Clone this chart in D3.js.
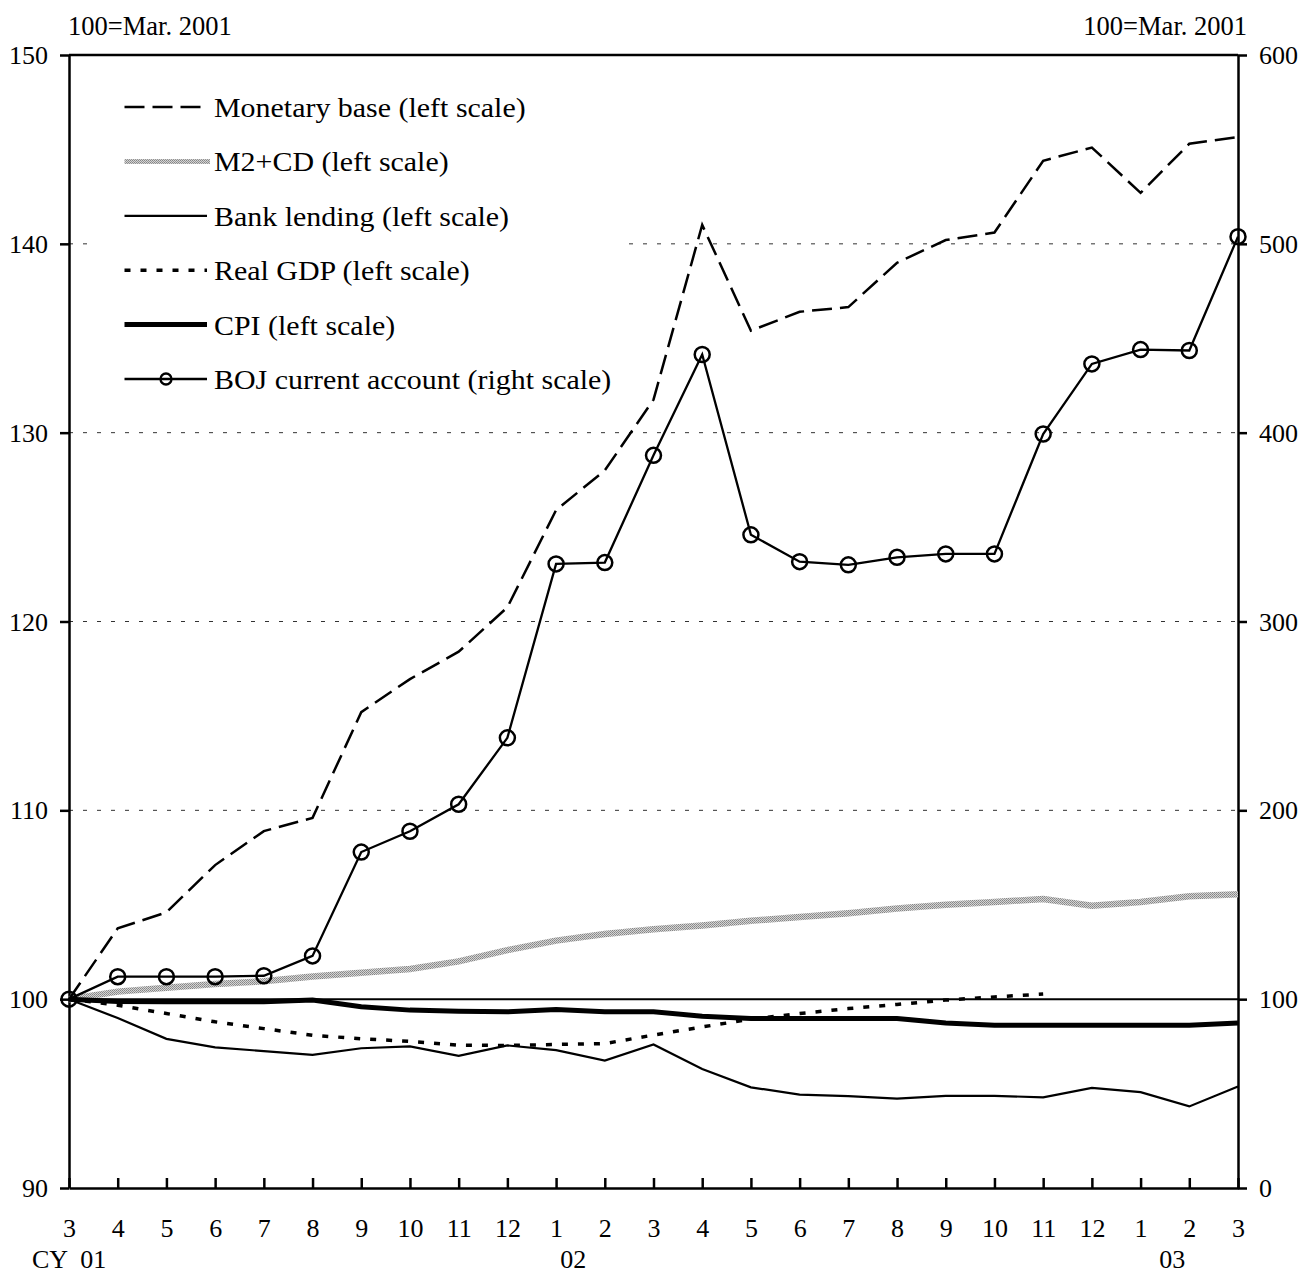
<!DOCTYPE html>
<html>
<head>
<meta charset="utf-8">
<script src="https://cdn.jsdelivr.net/npm/d3@7"></script>
<style>
  html, body { margin: 0; padding: 0; background: #fff; }
  svg text { font-family: "Liberation Serif", "Times New Roman", serif; fill: #000; }
</style>
</head>
<body>
<svg id="chart" width="1302" height="1275"></svg>
<script>
// ---------------- data ----------------
const months = ["3","4","5","6","7","8","9","10","11","12","1","2","3","4","5","6","7","8","9","10","11","12","1","2","3"];
const yearLabels = ["CY  01", "02", "03"];
const yearLabelPos = [0, 10.35, 22.65];   // month index where each year label sits
const leftTicks = [90, 100, 110, 120, 130, 140, 150];
const rightTicks = [0, 100, 200, 300, 400, 500, 600];
const gridValues = [110, 120, 130, 140];

const monetaryBase = [100, 103.75, 104.6, 107.1, 108.9, 109.6, 115.2, 116.95, 118.4, 120.75, 125.9, 128.0, 131.75, 141.0, 135.4, 136.4, 136.65, 139.0, 140.2, 140.6, 144.4, 145.1, 142.7, 145.3, 145.65];
const m2cd = [100, 100.4, 100.6, 100.8, 100.95, 101.2, 101.4, 101.6, 102.0, 102.6, 103.1, 103.45, 103.7, 103.9, 104.15, 104.35, 104.55, 104.8, 105.0, 105.15, 105.3, 104.95, 105.15, 105.45, 105.55];
const bankLending = [100, 99.0, 97.9, 97.45, 97.25, 97.05, 97.4, 97.5, 97.0, 97.55, 97.3, 96.75, 97.6, 96.3, 95.33, 94.95, 94.87, 94.73, 94.88, 94.88, 94.8, 95.3, 95.08, 94.32, 95.38];
const realGDP = [100, 99.68, 99.24, 98.8, 98.44, 98.09, 97.9, 97.77, 97.56, 97.55, 97.6, 97.65, 98.1, 98.53, 98.94, 99.24, 99.5, 99.72, 99.95, 100.12, 100.27];
const cpi = [100, 99.88, 99.86, 99.86, 99.86, 99.95, 99.6, 99.42, 99.36, 99.33, 99.45, 99.33, 99.33, 99.1, 98.98, 98.98, 98.98, 98.98, 98.74, 98.62, 98.62, 98.62, 98.62, 98.62, 98.74];
const bojCurrentAccount = [100, 111.9, 111.9, 111.9, 112.4, 122.9, 177.9, 188.9, 203.2, 238.4, 330.5, 331.2, 388, 441.4, 345.9, 331.7, 330, 334, 335.8, 335.8, 399.3, 436.4, 444, 443.5, 503.8];

const legendLabels = ["Monetary base (left scale)", "M2+CD (left scale)", "Bank lending (left scale)", "Real GDP (left scale)", "CPI (left scale)", "BOJ current account (right scale)"];

// ---------------- layout ----------------
const L = 69, R = 1238, T = 55, B = 1188;
const FS = 26;

const svg = d3.select("#chart");

// stipple pattern for M2+CD
const defs = svg.append("defs");
const pat = defs.append("pattern").attr("id", "stip").attr("patternUnits", "userSpaceOnUse")
  .attr("width", 2).attr("height", 2);
pat.append("rect").attr("width", 2).attr("height", 2).attr("fill", "#d4d4d4");
pat.append("rect").attr("width", 1).attr("height", 1).attr("fill", "#858585");
pat.append("rect").attr("x", 1).attr("y", 1).attr("width", 1).attr("height", 1).attr("fill", "#959595");

const x = d3.scaleLinear().domain([0, months.length - 1]).range([L, R]);
const yL = d3.scaleLinear().domain([90, 150]).range([B, T]);
const yR = d3.scaleLinear().domain([0, 600]).range([B, T]);

// gridlines
svg.append("g").selectAll("line").data(gridValues).join("line")
  .attr("x1", L).attr("x2", R)
  .attr("y1", d => yL(d)).attr("y2", d => yL(d))
  .attr("stroke", "#333").attr("stroke-width", 1).attr("stroke-dasharray", "4,10");

// legend white box (hides gridline behind legend)
svg.append("rect").attr("x", 93).attr("y", 80).attr("width", 536).attr("height", 325).attr("fill", "#fff");

// 100 reference line
svg.append("line").attr("x1", L).attr("x2", R).attr("y1", yL(100)).attr("y2", yL(100))
  .attr("stroke", "#000").attr("stroke-width", 2);

// top border
svg.append("line").attr("x1", L).attr("x2", R).attr("y1", T).attr("y2", T)
  .attr("stroke", "#000").attr("stroke-width", 2.5);

// axes
const gL = svg.append("g").attr("transform", `translate(${L},0)`)
  .call(d3.axisLeft(yL).tickValues(leftTicks).tickSizeInner(9).tickSizeOuter(0).tickPadding(12));
const gR = svg.append("g").attr("transform", `translate(${R},0)`)
  .call(d3.axisRight(yR).tickValues(rightTicks).tickSizeInner(9).tickSizeOuter(0).tickPadding(12));
const gB = svg.append("g").attr("transform", `translate(0,${B})`)
  .call(d3.axisBottom(x).tickValues(d3.range(months.length)).tickFormat(i => months[i])
    .tickSizeInner(-10).tickSizeOuter(0));
[gL, gR, gB].forEach(g => {
  g.select(".domain").attr("stroke", "#000").attr("stroke-width", 2.5);
  g.selectAll(".tick line").attr("stroke", "#000").attr("stroke-width", 2.5);
  g.selectAll("text").attr("font-size", FS).attr("font-family", "Liberation Serif");
});
gL.selectAll("text").attr("dy", "0.33em");
gR.selectAll("text").attr("dy", "0.33em");
gB.selectAll("text").attr("y", 49).attr("dy", 0);

// year labels
svg.append("g").selectAll("text").data(yearLabels).join("text")
  .attr("x", (d, i) => i === 0 ? 32 : x(yearLabelPos[i]))
  .attr("y", 1268)
  .attr("text-anchor", (d, i) => i === 0 ? "start" : "middle")
  .attr("font-size", FS)
  .attr("xml:space", "preserve")
  .style("white-space", "pre")
  .text(d => d);

// unit labels
svg.append("text").attr("x", 68).attr("y", 35).attr("font-size", 26.5).text("100=Mar. 2001");
svg.append("text").attr("x", 1247).attr("y", 35).attr("font-size", 26.5).attr("text-anchor", "end").text("100=Mar. 2001");

// series
const lineL = d3.line().x((d, i) => x(i)).y(d => yL(d));
const lineR = d3.line().x((d, i) => x(i)).y(d => yR(d));

const styles = {
  mb:   { stroke: "#000", width: 2.5, dash: "20,8" },
  m2:   { stroke: "url(#stip)", width: 6.5, dash: null },
  bank: { stroke: "#000", width: 2.2, dash: null },
  gdp:  { stroke: "#000", width: 3.5, dash: "6,10" },
  cpi:  { stroke: "#000", width: 5, dash: null },
  boj:  { stroke: "#000", width: 2.3, dash: null }
};

function drawLine(data, gen, st) {
  svg.append("path").datum(data).attr("d", gen)
    .attr("fill", "none").attr("stroke", st.stroke).attr("stroke-width", st.width)
    .attr("stroke-linejoin", "miter").attr("stroke-dasharray", st.dash);
}
drawLine(m2cd, lineL, styles.m2);
drawLine(realGDP, lineL, styles.gdp);
drawLine(bankLending, lineL, styles.bank);
drawLine(cpi, lineL, styles.cpi);
drawLine(monetaryBase, lineL, styles.mb);
drawLine(bojCurrentAccount, lineR, styles.boj);
svg.append("g").selectAll("circle").data(bojCurrentAccount).join("circle")
  .attr("cx", (d, i) => x(i)).attr("cy", d => yR(d)).attr("r", 7.5)
  .attr("fill", "none").attr("stroke", "#000").attr("stroke-width", 2.5);

// legend
const legendKeys = ["mb", "m2", "bank", "gdp", "cpi", "boj"];
const lg = svg.append("g");
legendKeys.forEach((k, i) => {
  const base = 117 + i * 54.4;
  const ly = base - 10;
  const st = styles[k];
  lg.append("line").attr("x1", 124.5).attr("x2", k === "m2" ? 210 : 207)
    .attr("y1", ly).attr("y2", ly)
    .attr("stroke", st.stroke).attr("stroke-width", k === "m2" ? 5 : st.width)
    .attr("stroke-dasharray", st.dash);
  if (k === "boj") {
    lg.append("circle").attr("cx", 166).attr("cy", ly).attr("r", 5.5)
      .attr("fill", "none").attr("stroke", "#000").attr("stroke-width", 2.3);
  }
  lg.append("text").attr("transform", `translate(214,${base}) scale(1.13,1)`)
    .attr("font-size", 26.5).text(legendLabels[i]);
});
</script>
</body>
</html>
